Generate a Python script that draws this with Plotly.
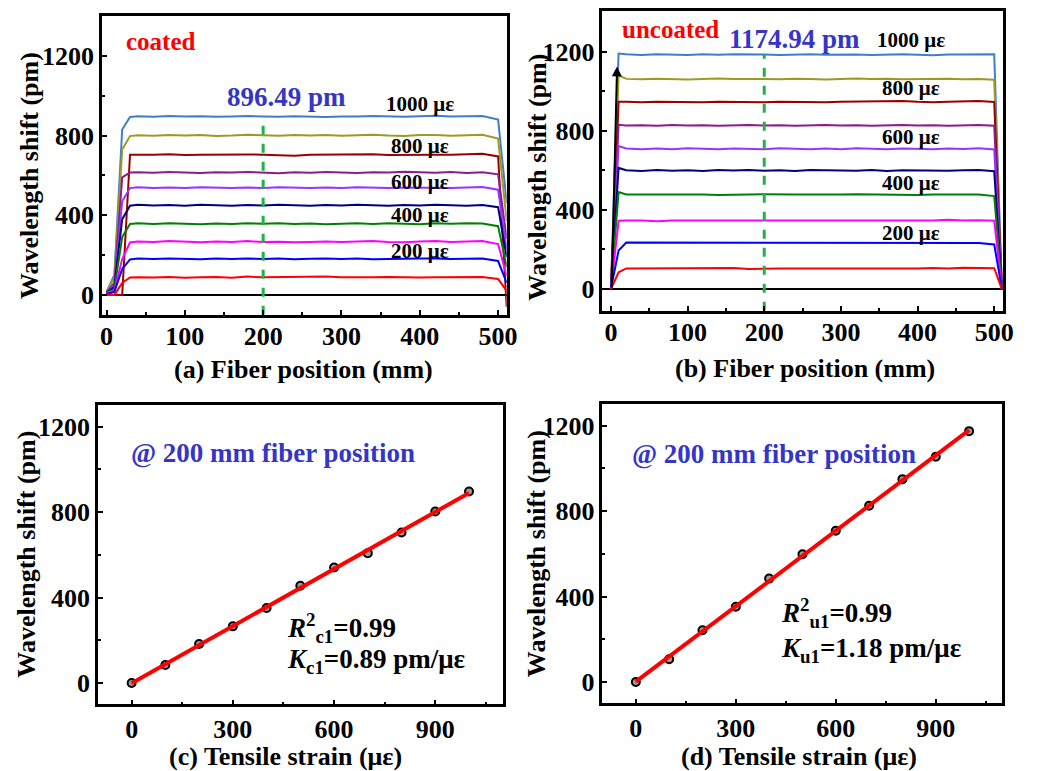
import numpy as np
import plotly.graph_objects as go

# ---------------- data ----------------
strain_labels = ["1000", "900", "800", "700", "600", "500", "400", "300", "200", "100"]
line_colors = ["#3F7FC2", "#9C9A24", "#990000", "#8B1C8B", "#9933FF", "#000080",
               "#008000", "#FF00FF", "#0000FF", "#FF0000"]

# (a) coated, fiber position (mm)
pos_a = [0, 10, 20, 30, 40, 60, 80, 100, 120, 140, 160, 180, 200, 220, 240, 260, 280,
         300, 320, 340, 360, 380, 400, 420, 440, 460, 480, 500, 511]
coated_1000 = [15, 100, 830, 893, 897, 894, 898, 895, 897, 894, 896, 898, 896, 894, 897, 895, 893, 896, 895, 898, 896, 894, 897, 899, 895, 896, 898, 880, 460]
coated_900 = [12, 90, 730, 797, 801, 799, 803, 800, 802, 798, 800, 804, 801, 799, 802, 800, 803, 799, 801, 804, 800, 798, 802, 803, 799, 801, 804, 785, 370]
coated_800 = [5, 0, 0, 704, 704, 703, 706, 702, 704, 705, 703, 705, 704, 702, 698, 704, 705, 703, 704, 706, 702, 703, 705, 704, 703, 706, 708, 695, -60]
coated_700 = [12, 60, 590, 614, 616, 613, 617, 614, 612, 616, 614, 617, 612, 610, 615, 613, 617, 614, 612, 616, 614, 618, 615, 613, 617, 612, 616, 605, 280]
coated_600 = [10, 50, 470, 536, 540, 537, 539, 536, 540, 538, 536, 539, 537, 540, 538, 536, 539, 537, 540, 538, 536, 539, 538, 540, 537, 539, 541, 528, 230]
coated_500 = [10, 40, 380, 448, 452, 449, 451, 448, 452, 450, 448, 451, 449, 452, 450, 448, 451, 449, 452, 450, 448, 451, 449, 452, 450, 448, 451, 440, 190]
coated_400 = [10, 30, 290, 356, 359, 356, 360, 357, 355, 358, 356, 359, 357, 360, 356, 358, 355, 357, 359, 356, 360, 357, 355, 359, 357, 360, 358, 345, 140]
coated_300 = [10, 20, 180, 263, 268, 265, 270, 266, 264, 268, 266, 270, 265, 267, 264, 266, 268, 265, 267, 270, 266, 264, 268, 271, 266, 268, 270, 255, 95]
coated_200 = [5, 15, 130, 178, 182, 180, 183, 181, 179, 182, 180, 183, 180, 182, 179, 181, 183, 180, 182, 179, 181, 180, 182, 183, 180, 181, 182, 170, 60]
coated_100 = [0, 0, 60, 87, 89, 87, 90, 86, 88, 90, 86, 92, 88, 89, 87, 90, 92, 88, 87, 89, 90, 88, 87, 89, 90, 88, 90, 80, 20]

# (b) uncoated, fiber position (mm)
pos_b = [0, 10, 20, 40, 60, 80, 100, 120, 140, 160, 180, 200, 220, 240, 260, 280,
         300, 320, 340, 360, 380, 400, 420, 440, 460, 480, 500, 510]
uncoated_1000 = [0, 1190, 1186, 1183, 1187, 1185, 1183, 1186, 1184, 1186, 1187, 1185, 1183, 1186, 1187, 1184, 1186, 1185, 1183, 1186, 1187, 1184, 1182, 1185, 1186, 1184, 1186, 0]
uncoated_900 = [0, 1080, 1062, 1060, 1063, 1061, 1059, 1062, 1064, 1061, 1063, 1062, 1060, 1063, 1061, 1059, 1062, 1064, 1061, 1063, 1060, 1062, 1061, 1063, 1060, 1062, 1058, 0]
uncoated_800 = [0, 946, 946, 944, 947, 945, 946, 944, 947, 945, 946, 944, 947, 945, 946, 944, 946, 947, 945, 946, 950, 946, 944, 946, 948, 950, 945, 0]
uncoated_700 = [0, 830, 826, 828, 825, 829, 826, 828, 825, 827, 829, 826, 828, 825, 827, 829, 826, 828, 825, 827, 829, 826, 828, 825, 827, 829, 825, 0]
uncoated_600 = [0, 722, 710, 706, 710, 707, 711, 708, 706, 710, 708, 706, 711, 708, 706, 710, 707, 711, 708, 706, 710, 708, 706, 710, 708, 712, 705, 0]
uncoated_500 = [0, 612, 600, 597, 601, 598, 600, 597, 601, 599, 601, 598, 600, 597, 601, 599, 600, 598, 601, 597, 600, 599, 601, 598, 600, 601, 595, 0]
uncoated_400 = [0, 490, 478, 478, 478, 479, 477, 478, 475, 478, 478, 479, 477, 478, 478, 477, 478, 479, 478, 477, 478, 475, 478, 479, 477, 478, 470, 0]
uncoated_300 = [0, 345, 347, 347, 343, 347, 347, 346, 347, 347, 347, 347, 346, 347, 347, 347, 347, 347, 346, 347, 347, 347, 347, 350, 347, 348, 345, 0]
uncoated_200 = [0, 195, 235, 235, 235, 233, 236, 235, 235, 234, 235, 235, 235, 235, 235, 235, 235, 235, 235, 235, 235, 235, 235, 235, 235, 233, 225, 0]
uncoated_100 = [0, 85, 104, 104, 104, 104, 104, 104, 104, 106, 101, 104, 104, 104, 104, 104, 104, 104, 101, 104, 104, 104, 106, 104, 108, 108, 105, 0]

# (c), (d) wavelength shift at 200 mm vs tensile strain
strain = [0, 100, 200, 300, 400, 500, 600, 700, 800, 900, 1000]
shift_coated = [0, 84, 182, 265, 351, 455, 541, 608, 705, 803, 896.49]
shift_uncoated = [0, 106, 242, 352, 484, 598, 708, 825, 950, 1055, 1174.94]
strain_ticks = [0, 300, 600, 900]

coated_curves = [coated_1000, coated_900, coated_800, coated_700, coated_600,
                 coated_500, coated_400, coated_300, coated_200, coated_100]
uncoated_curves = [uncoated_1000, uncoated_900, uncoated_800, uncoated_700, uncoated_600,
                   uncoated_500, uncoated_400, uncoated_300, uncoated_200, uncoated_100]

# ---------------- figure ----------------
FONT = "Liberation Serif"
BLUE_TXT = "#3535C8"
OFF = 8                      # default page margin of the html body
W, H = 1047 - OFF, 771 - OFF

fig = go.Figure()

for name, col, ys in zip(strain_labels, line_colors, coated_curves):
    fig.add_trace(go.Scatter(x=pos_a, y=ys, mode="lines", line=dict(color=col, width=2),
                             name=name, xaxis="x", yaxis="y", hoverinfo="skip"))
for name, col, ys in zip(strain_labels, line_colors, uncoated_curves):
    fig.add_trace(go.Scatter(x=pos_b, y=ys, mode="lines", line=dict(color=col, width=2),
                             name=name, xaxis="x2", yaxis="y2", hoverinfo="skip"))

# dashed marker lines at 200 mm
ya_range = [-100, 1400]
yb_range = [-110, 1405]
ia = pos_a.index(200)
ib = pos_b.index(200)
fig.add_trace(go.Scatter(x=[200, 200], y=[ya_range[0], coated_1000[ia]], mode="lines",
                         line=dict(color="#22B04A", width=3, dash="dash"), xaxis="x", yaxis="y"))
fig.add_trace(go.Scatter(x=[200, 200], y=[yb_range[0], uncoated_1000[ib]], mode="lines",
                         line=dict(color="#22B04A", width=3, dash="dash"), xaxis="x2", yaxis="y2"))

# (c) and (d)
for xs, ys, xa, ya in [(strain, shift_coated, "x3", "y3"), (strain, shift_uncoated, "x4", "y4")]:
    fig.add_trace(go.Scatter(x=xs, y=ys, mode="markers",
                             marker=dict(size=8, color="#9a9a9a", line=dict(color="black", width=2)),
                             xaxis=xa, yaxis=ya))
    k, b = np.polyfit(xs, ys, 1)
    fx = [xs[0], xs[-1]]
    fig.add_trace(go.Scatter(x=fx, y=[k * v + b for v in fx], mode="lines",
                             line=dict(color="#FF0000", width=4), xaxis=xa, yaxis=ya))

tickfont = dict(family=FONT, size=26, color="black", weight="bold")

def axis(domain, rng, dtick=None, minor_dtick=None, anchor=None,
         zeroline=False, standoff=0):
    d = dict(domain=domain, range=rng, showline=True, mirror=True, linecolor="black",
             linewidth=2.5, showgrid=False, zeroline=zeroline, zerolinecolor="black",
             zerolinewidth=2, ticks="inside", ticklen=5, tickwidth=2, tickcolor="black",
             tickfont=tickfont, anchor=anchor, ticklabelstandoff=standoff,
             dtick=dtick, tick0=0)
    if minor_dtick is not None:
        d["minor"] = dict(dtick=minor_dtick, ticks="inside", ticklen=3, tickwidth=2,
                          tickcolor="black", showgrid=False)
    return d

def px_x(p):
    return (p - OFF) / W

def px_y(p):
    return 1 - (p - OFF) / H

fig.update_layout(
    width=W, height=H, margin=dict(l=0, r=0, t=0, b=0),
    paper_bgcolor="white", plot_bgcolor="white", showlegend=False,
    xaxis=axis([px_x(101), px_x(511)], [-6, 511], dtick=100, minor_dtick=50, anchor="y", standoff=-4),
    yaxis=axis([px_y(313), px_y(13)], ya_range, dtick=400, minor_dtick=200, anchor="x", zeroline=True),
    xaxis2=axis([px_x(608), px_x(1014)], [-11, 512], dtick=100, minor_dtick=50, anchor="y2", standoff=-4),
    yaxis2=axis([px_y(309), px_y(8)], yb_range, dtick=400, minor_dtick=200, anchor="x2", zeroline=True),
    xaxis3=axis([px_x(97), px_x(507)], [-100, 1100], dtick=strain_ticks[1], minor_dtick=150,
                anchor="y3", standoff=0),
    yaxis3=axis([px_y(704), px_y(404)], [-100, 1300], dtick=400, minor_dtick=200, anchor="x3"),
    xaxis4=axis([px_x(608), px_x(1013)], [-100, 1100], dtick=strain_ticks[1], minor_dtick=150,
                anchor="y4", standoff=0),
    yaxis4=axis([px_y(703), px_y(403)], [-100, 1300], dtick=400, minor_dtick=200, anchor="x4"),
)

def bold(size, color="black"):
    return dict(family=FONT, size=size, color=color, weight="bold")

ann = []
# axis titles (paper coordinates)
ytitle = "Wavelength shift (pm)"
for (x, y) in [(28, 173), (542, 175), (25, 553), (542, 553)]:
    ann.append(dict(text=ytitle, x=px_x(x), y=px_y(y), xref="paper", yref="paper",
                    xanchor="center", yanchor="middle",
                    textangle=-90, showarrow=False, font=bold(26)))
for (t, x, y) in [("(a) Fiber position (mm)", 305, 368), ("(b) Fiber position (mm)", 813, 367),
                  ("(c) Tensile strain (με)", 287, 756), ("(d) Tensile strain (με)", 807, 756)]:
    ann.append(dict(text=t, x=px_x(x), y=px_y(y), xref="paper", yref="paper",
                    xanchor="center", yanchor="middle", showarrow=False, font=bold(26)))

# panel (a) texts
ann.append(dict(text="coated", x=22, y=1270, xref="x", yref="y", xanchor="left",
                showarrow=False, font=bold(25, "#FF0000")))
ann.append(dict(text=f"{shift_coated[-1]:.2f} pm", x=230, y=995, xref="x", yref="y",
                showarrow=False, font=bold(27, BLUE_TXT)))
for t, y in [("1000 με", 960), ("800 με", 748), ("600 με", 568), ("400 με", 403), ("200 με", 218)]:
    ann.append(dict(text=t, x=400, y=y, xref="x", yref="y", showarrow=False, font=bold(21)))

# panel (b) texts
ann.append(dict(text="uncoated", x=12, y=1310, xref="x2", yref="y2", xanchor="left",
                showarrow=False, font=bold(25, "#FF0000")))
ann.append(dict(text=f"{shift_uncoated[-1]:.2f} pm", x=240, y=1265, xref="x2", yref="y2",
                showarrow=False, font=bold(27, BLUE_TXT)))
for t, y in [("1000 με", 1258), ("800 με", 1015), ("600 με", 768), ("400 με", 536), ("200 με", 284)]:
    ann.append(dict(text=t, x=391, y=y, xref="x2", yref="y2", showarrow=False, font=bold(21)))
ann.append(dict(x=8, y=1125, ax=1, ay=0, xref="x2", yref="y2", axref="x2", ayref="y2",
                showarrow=True, arrowhead=2, arrowsize=1, arrowwidth=2, arrowcolor="black", text=""))

# panel (c) texts
ann.append(dict(text="@ 200 mm fiber position", x=418, y=1078, xref="x3", yref="y3",
                showarrow=False, font=bold(27, BLUE_TXT)))
ann.append(dict(text="<i>R</i><sup>2</sup><sub>c1</sub>=0.99", x=455, y=258, xref="x3", yref="y3",
                xanchor="left", showarrow=False, font=bold(27)))
ann.append(dict(text="<i>K</i><sub>c1</sub>=0.89 pm/με", x=455, y=103, xref="x3", yref="y3",
                xanchor="left", showarrow=False, font=bold(27)))

# panel (d) texts
ann.append(dict(text="@ 200 mm fiber position", x=416, y=1069, xref="x4", yref="y4",
                showarrow=False, font=bold(27, BLUE_TXT)))
ann.append(dict(text="<i>R</i><sup>2</sup><sub>u1</sub>=0.99", x=430, y=325, xref="x4", yref="y4",
                xanchor="left", showarrow=False, font=bold(27)))
ann.append(dict(text="<i>K</i><sub>u1</sub>=1.18 pm/με", x=430, y=150, xref="x4", yref="y4",
                xanchor="left", showarrow=False, font=bold(27)))

fig.update_layout(annotations=ann)
fig.write_html("out.html")
